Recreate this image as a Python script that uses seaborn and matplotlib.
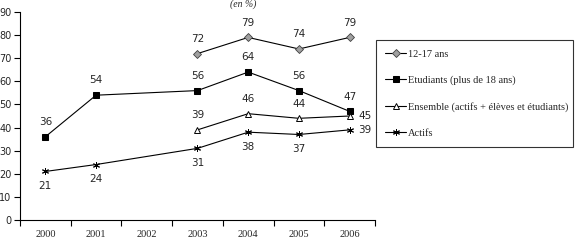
import matplotlib
matplotlib.use("Agg")
import matplotlib.pyplot as plt
import seaborn as sns
import numpy as np
import pandas as pd
from matplotlib.ticker import FixedLocator

years = ["2000", "2001", "2002", "2003", "2004", "2005", "2006"]
ados = [np.nan, np.nan, np.nan, 72, 79, 74, 79]
etudiants = [36, 54, np.nan, 56, 64, 56, 47]
ensemble = [np.nan, np.nan, np.nan, 39, 46, 44, 45]
actifs = [21, 24, np.nan, 31, 38, 37, 39]
series_names = ["12-17 ans", "Etudiants (plus de 18 ans)",
                "Ensemble (actifs + élèves et étudiants)", "Actifs"]

sns.set_style("white")
plt.rcParams['font.family'] = ['DejaVu Sans']

fig = plt.figure(figsize=(5.78, 2.41), dpi=100)
ax = fig.add_axes([20/578, 1-220/241, (375-20)/578, (220-12)/241])

x = np.arange(len(years))
styles = [
    dict(marker="D", markersize=4, markerfacecolor="#a0a0a0", markeredgecolor="#404040", markeredgewidth=0.6),
    dict(marker="s", markersize=5, markerfacecolor="black", markeredgecolor="black"),
    dict(marker="^", markersize=5, markerfacecolor="white", markeredgecolor="black", markeredgewidth=0.7),
    dict(marker=(6, 2, 0), markersize=5, markeredgecolor="black", markeredgewidth=0.7),
]
data = [ados, etudiants, ensemble, actifs]
for name, vals, st in zip(series_names, data, styles):
    df = pd.DataFrame({"x": x, "y": vals}).dropna()
    sns.lineplot(data=df, x="x", y="y", ax=ax, color="black", linewidth=0.8,
                 label=name, **st)

# Data labels
def lab(i, v, pos):
    if pos == "above":
        ax.annotate(f"{v:g}", (i, v), xytext=(0, 7), textcoords="offset points",
                    ha="center", va="bottom", fontsize=7.5)
    elif pos == "below":
        ax.annotate(f"{v:g}", (i, v), xytext=(0, -7), textcoords="offset points",
                    ha="center", va="top", fontsize=7.5)
    else:
        ax.annotate(f"{v:g}", (i, v), xytext=(6, 0), textcoords="offset points",
                    ha="left", va="center", fontsize=7.5)

for i, v in enumerate(ados):
    if not np.isnan(v):
        lab(i, v, "above")
for i, v in enumerate(etudiants):
    if not np.isnan(v):
        lab(i, v, "above")
for i, v in enumerate(ensemble):
    if not np.isnan(v):
        lab(i, v, "right" if i == 6 else "above")
for i, v in enumerate(actifs):
    if not np.isnan(v):
        lab(i, v, "right" if i == 6 else "below")

ax.set_xlim(-0.5, 6.5)
ax.set_ylim(0, 90)
ax.set_yticks(range(0, 91, 10))
ax.set_xticks(x)
ax.set_xticklabels(years, fontsize=7.5, family="Liberation Serif")
ax.xaxis.set_minor_locator(FixedLocator(np.arange(-0.5, 7, 1)))
ax.tick_params(axis="x", which="major", length=0, pad=7)
ax.tick_params(axis="x", which="minor", length=4, width=0.8, direction="out", color="black", bottom=True)
ax.tick_params(axis="y", length=4, width=0.8, direction="out", color="black", left=True, labelsize=7, pad=2)
ax.set_xlabel("")
ax.set_ylabel("")
for s in ["top", "right"]:
    ax.spines[s].set_visible(False)
for s in ["left", "bottom"]:
    ax.spines[s].set_color("black")
    ax.spines[s].set_linewidth(0.8)

ax.get_legend().remove()
handles, labels = ax.get_legend_handles_labels()
leg = fig.legend(handles, labels, loc="upper left",
                 bbox_to_anchor=(376/578, 1-145/241, (573-376)/578, (145-40)/241),
                 mode="expand", frameon=True, fancybox=False, edgecolor="black",
                 prop={"family": "Liberation Serif", "size": 7.5},
                 labelspacing=1.6, handlelength=2.0, handletextpad=0.2,
                 borderpad=0.9, borderaxespad=0)
leg.get_frame().set_linewidth(0.8)

fig.text(243/578, 1-4/241, "(en %)", ha="center", va="center", fontsize=7,
         style="italic", family="Liberation Serif")

fig.savefig("out.png", dpi=100)
